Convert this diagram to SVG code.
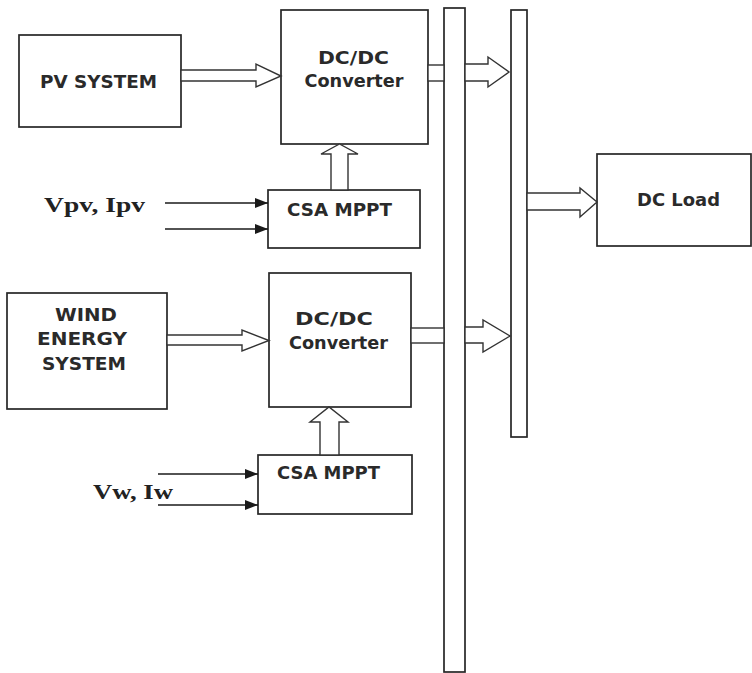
<svg xmlns="http://www.w3.org/2000/svg" width="752" height="673" viewBox="0 0 752 673">
<defs>
<style>
.box{fill:#fff;stroke:#262626;stroke-width:1.7}
.bus{fill:#fff;stroke:#262626;stroke-width:1.7}
.blk{fill:#fff;stroke:#333;stroke-width:1.4;stroke-linejoin:miter}
.ln{stroke:#1a1a1a;stroke-width:1.5;fill:none}
.t{font-family:"DejaVu Sans",Verdana,sans-serif;font-weight:bold;font-size:17px;fill:#2a2a2a;text-anchor:middle}
.s{font-family:"Liberation Serif","Times New Roman",serif;font-weight:bold;font-size:22px;fill:#222}
</style>
<marker id="ah" markerWidth="13" markerHeight="10" refX="13" refY="5" orient="auto" markerUnits="userSpaceOnUse">
<path d="M0,0 L13,5 L0,10 Z" fill="#1a1a1a"/>
</marker>
</defs>

<g id="bus1"><rect class="bus" x="444" y="8" width="21" height="664"/></g>
<g id="bus2"><rect class="bus" x="511" y="10" width="16" height="427"/></g>

<g id="pv">
<rect class="box" x="19" y="35" width="162" height="92"/>
<text class="t" x="98.5" y="88" textLength="117" lengthAdjust="spacingAndGlyphs">PV SYSTEM</text>
</g>

<g id="dcdc1">
<rect class="box" x="281" y="10" width="147" height="134"/>
<text class="t" x="353.5" y="64" textLength="71" lengthAdjust="spacingAndGlyphs">DC/DC</text>
<text class="t" x="354" y="87" textLength="99" lengthAdjust="spacingAndGlyphs">Converter</text>
</g>

<g id="csa1">
<rect class="box" x="268" y="190" width="152" height="58"/>
<text class="t" x="339.5" y="216" textLength="105" lengthAdjust="spacingAndGlyphs">CSA MPPT</text>
</g>

<g id="wind">
<rect class="box" x="7" y="293" width="160" height="116"/>
<text class="t" x="86" y="321" textLength="62" lengthAdjust="spacingAndGlyphs">WIND</text>
<text class="t" x="82" y="345" textLength="90" lengthAdjust="spacingAndGlyphs">ENERGY</text>
<text class="t" x="84" y="370" textLength="84" lengthAdjust="spacingAndGlyphs">SYSTEM</text>
</g>

<g id="dcdc2">
<rect class="box" x="269" y="273" width="142" height="134"/>
<text class="t" x="334" y="325" textLength="78" lengthAdjust="spacingAndGlyphs">DC/DC</text>
<text class="t" x="338.5" y="349" textLength="99" lengthAdjust="spacingAndGlyphs">Converter</text>
</g>

<g id="csa2">
<rect class="box" x="258" y="455" width="154" height="59"/>
<text class="t" x="328.5" y="479" textLength="103" lengthAdjust="spacingAndGlyphs">CSA MPPT</text>
</g>

<g id="load">
<rect class="box" x="597" y="154" width="154" height="92"/>
<text class="t" x="678.5" y="206" textLength="83" lengthAdjust="spacingAndGlyphs">DC Load</text>
</g>

<g id="labels">
<text class="s" x="44" y="212" textLength="101" lengthAdjust="spacingAndGlyphs">Vpv, Ipv</text>
<text class="s" x="93" y="499" textLength="80" lengthAdjust="spacingAndGlyphs">Vw, Iw</text>
</g>

<g id="connectors">
<polygon class="blk" points="181,70 256,70 256,64 281,76 256,87 256,81 181,81"/>
<rect class="blk" x="428" y="65" width="16" height="16"/>
<polygon class="blk" points="465,64 488,64 488,57 509,72 488,87 488,81 465,81"/>
<polygon class="blk" points="331,190 331,154 321,154 339.5,144 358,154 348,154 348,190"/>
<polygon class="blk" points="167,335 242,335 242,330 269,340.5 242,351 242,345 167,345"/>
<rect class="blk" x="411" y="328" width="33" height="15"/>
<polygon class="blk" points="465,327 483,327 483,320 510,336 483,352 483,343 465,343"/>
<polygon class="blk" points="320,455 320,422 310,422 329,407 348,422 339,422 339,455"/>
<polygon class="blk" points="527,193 580,193 580,188 597,202 580,217 580,210 527,210"/>
<line class="ln" x1="165" y1="203" x2="268" y2="203" marker-end="url(#ah)"/>
<line class="ln" x1="165" y1="229" x2="268" y2="229" marker-end="url(#ah)"/>
<line class="ln" x1="158" y1="474" x2="258" y2="474" marker-end="url(#ah)"/>
<line class="ln" x1="158" y1="505" x2="258" y2="505" marker-end="url(#ah)"/>
</g>
</svg>
